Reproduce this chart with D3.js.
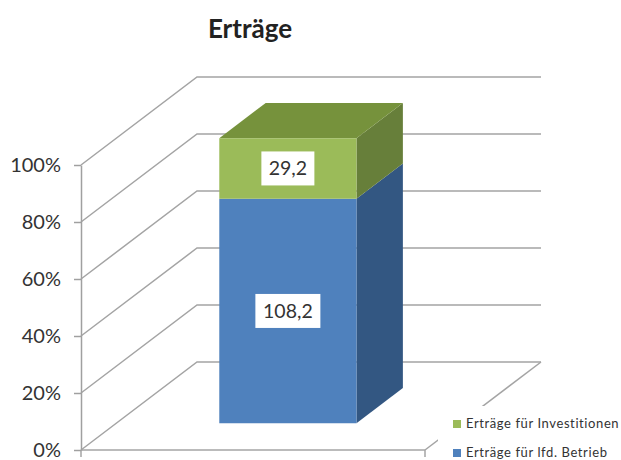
<!DOCTYPE html>
<html>
<head>
<meta charset="utf-8">
<script src="https://cdnjs.cloudflare.com/ajax/libs/d3/7.8.5/d3.min.js"></script>
<style>
body { margin: 0; background: #fff; }
svg { display: block; font-family: Lato, "Open Sans", sans-serif; }
.grid { fill: none; stroke: #a4a4a4; stroke-width: 1.5; }
.axis path, .axis line { stroke: #a0a0a0; stroke-width: 1.5; }
.axis text { font-size: 20px; fill: #333; font-family: Lato, "Open Sans", sans-serif; }
</style>
</head>
<body>
<div id="plot"></div>
<script>
var categories = ["Erträge"];
var seriesNames = ["Erträge für lfd. Betrieb", "Erträge für Investitionen"];
var seriesLabels = ["108,2", "29,2"];
var betrieb = [108.2];
var investitionen = [29.2];
var yTicks = [0, 20, 40, 60, 80, 100];

var width = 621, height = 460;

var svg = d3.select("#plot").append("svg")
    .attr("width", width)
    .attr("height", height);

var x = d3.scaleBand().domain(categories).range([81, 424]).paddingOuter(0.75).paddingInner(0);
var y = d3.scaleLinear().domain([0, 1]).range([450, 165]);
// depth of the box: 0 = front of floor, 1 = back wall
var dx = d3.scaleLinear().domain([0, 1]).range([0, 116]);
var dy = d3.scaleLinear().domain([0, 1]).range([0, -88]);
var barFront = 0.305, barBack = 0.705;

var line = d3.line();

function pt(px, v, depth) {
  return [px + dx(depth), y(v) + dy(depth)];
}

// walls
var walls = svg.append("g");
yTicks.forEach(function (t) {
  walls.append("path")
    .attr("class", "grid")
    .attr("d", line([pt(81, t / 100, 0), pt(81, t / 100, 1), pt(425, t / 100, 1)]));
});
walls.append("path")
  .attr("class", "grid")
  .attr("d", line([pt(425, 0, 0), pt(425, 0, 1)]));

// front edge of floor
walls.append("path")
  .attr("class", "grid")
  .attr("d", line([pt(81, 0, 0), pt(425, 0, 0)]));
walls.selectAll("line.cat")
  .data([81, 425])
  .enter().append("line")
  .attr("class", "grid")
  .attr("x1", function (d) { return d; })
  .attr("x2", function (d) { return d; })
  .attr("y1", 450)
  .attr("y2", 457);

// value axis
var axis = svg.append("g")
  .attr("class", "axis")
  .attr("transform", "translate(81,0)")
  .call(d3.axisLeft(y)
    .tickValues(yTicks.map(function (t) { return t / 100; }))
    .tickFormat(function (d) { return Math.round(d * 100) + "%"; })
    .tickSize(7)
    .tickSizeOuter(0)
    .tickPadding(13));
axis.select(".domain").attr("fill", "none");

// stacked bar
var table = categories.map(function (c, i) {
  return { cat: c, a: betrieb[i], b: investitionen[i] };
});
var stack = d3.stack().keys(["a", "b"]).offset(d3.stackOffsetExpand)(table);

var frontColor = ["#4f81bd", "#9bbb59"];
var sideColor = ["#335782", "#677f3a"];
var topColor = ["#3e6696", "#76923c"];

stack.forEach(function (layer, s) {
  layer.forEach(function (d, i) {
    var c = d.data.cat;
    var x0 = x(c), x1 = x(c) + x.bandwidth();
    var g = svg.append("g");
    g.append("path")
      .attr("fill", sideColor[s])
      .attr("d", line([pt(x1, d[0], barFront), pt(x1, d[0], barBack), pt(x1, d[1], barBack), pt(x1, d[1], barFront)]) + "Z");
    if (s == stack.length - 1) {
      g.append("path")
        .attr("fill", topColor[s])
        .attr("d", line([pt(x0, d[1], barFront), pt(x0, d[1], barBack), pt(x1, d[1], barBack), pt(x1, d[1], barFront)]) + "Z");
    }
    g.append("path")
      .attr("fill", frontColor[s])
      .attr("d", line([pt(x0, d[0], barFront), pt(x1, d[0], barFront), pt(x1, d[1], barFront), pt(x0, d[1], barFront)]) + "Z");
  });
});

// data labels
stack.forEach(function (layer, s) {
  layer.forEach(function (d) {
    var c = d.data.cat;
    var mid = pt(x(c) + x.bandwidth() / 2, (d[0] + d[1]) / 2, barFront);
    var w = seriesLabels[s].length > 4 ? 65 : 53;
    svg.append("rect")
      .attr("x", mid[0] - w / 2)
      .attr("y", mid[1] - 17)
      .attr("width", w)
      .attr("height", 34)
      .attr("fill", "#fff");
    svg.append("text")
      .attr("x", mid[0])
      .attr("y", mid[1] + 7)
      .attr("text-anchor", "middle")
      .attr("font-size", 19.5)
      .attr("fill", "#333")
      .text(seriesLabels[s]);
  });
});

// title
svg.append("text")
  .attr("x", 250)
  .attr("y", 38)
  .attr("text-anchor", "middle")
  .attr("font-size", 26)
  .attr("font-weight", "bold")
  .attr("fill", "#222")
  .text(categories[0]);

// legend sits on a white patch over the floor
svg.append("rect")
  .attr("x", 438).attr("y", 406)
  .attr("width", 183).attr("height", 54)
  .attr("fill", "#fff");
var legendY = d3.scalePoint().domain(seriesNames.slice().reverse()).range([424, 453]);
seriesNames.forEach(function (n, i) {
  svg.append("rect")
    .attr("x", 453)
    .attr("y", legendY(n) - 4)
    .attr("width", 8)
    .attr("height", 8)
    .attr("fill", frontColor[i]);
  svg.append("text")
    .attr("x", 466)
    .attr("y", legendY(n) + 4)
    .attr("font-size", 13)
    .attr("letter-spacing", 0.6)
    .attr("fill", "#333")
    .text(n);
});
</script>
</body>
</html>
